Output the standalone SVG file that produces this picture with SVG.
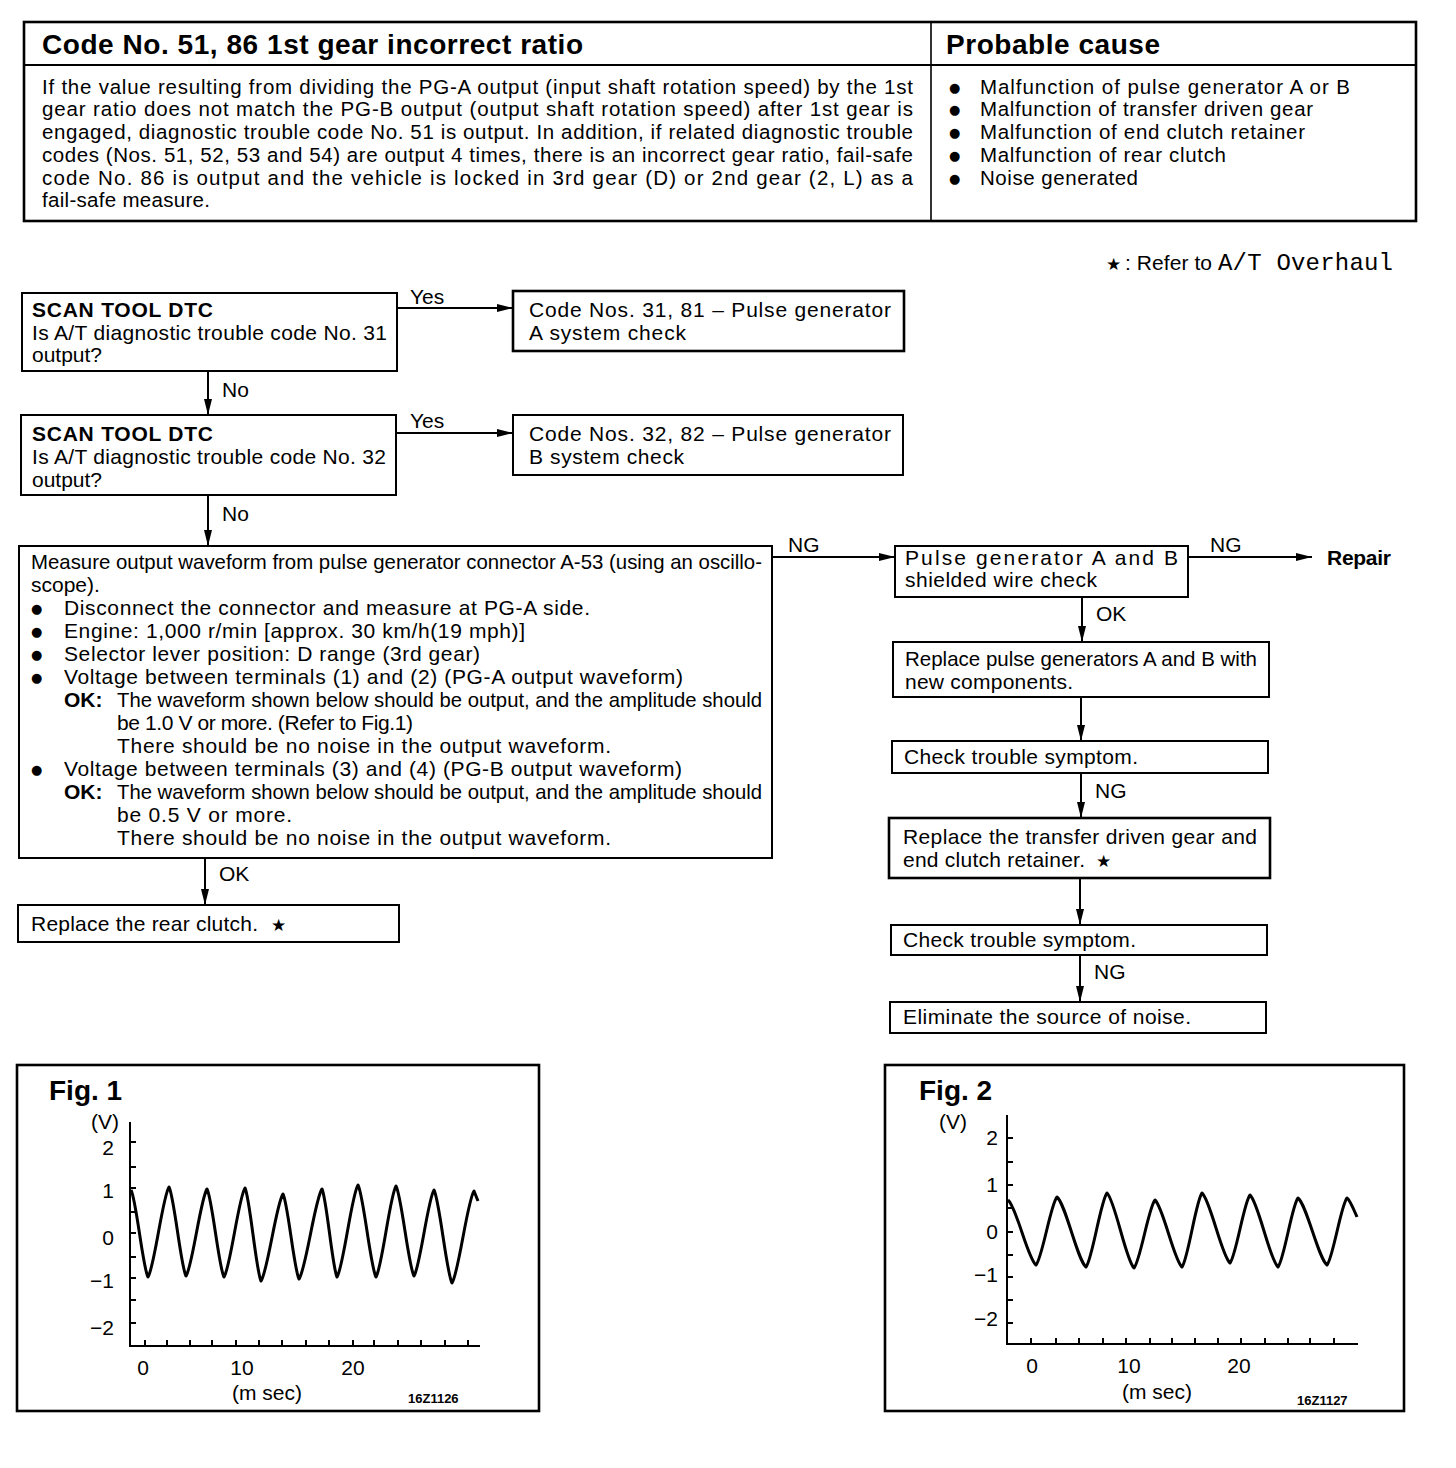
<svg xmlns="http://www.w3.org/2000/svg" width="1456" height="1468" viewBox="0 0 1456 1468">
<defs>
<style>
.t{font-family:"Liberation Sans",Arial,sans-serif;font-size:21px;fill:#000}
.b{font-weight:bold}
.h{font-family:"Liberation Sans",Arial,sans-serif;font-size:28px;font-weight:bold;fill:#000}
.s{font-family:"Liberation Sans",Arial,sans-serif;font-size:20.5px;fill:#000}
.bul{font-family:"DejaVu Sans",sans-serif;font-size:13px;fill:#000}
.star{font-family:"DejaVu Sans",sans-serif;font-size:17px;fill:#000}
.box{fill:#fff;stroke:#000;stroke-width:2}
.thick{stroke-width:2.6}
.ln{fill:none;stroke:#000;stroke-width:2}
.ax{fill:none;stroke:#000;stroke-width:2}
.wave{fill:none;stroke:#000;stroke-width:3;stroke-linejoin:round}
.fl{font-family:"Liberation Sans",Arial,sans-serif;font-size:21px;fill:#000}
.code{font-family:"Liberation Sans",Arial,sans-serif;font-size:13px;font-weight:bold;fill:#000}
</style>
<marker id="ah" markerUnits="userSpaceOnUse" markerWidth="16" markerHeight="8" refX="16" refY="4" orient="auto">
<path d="M0,0 L16,4 L0,8 z" fill="#000"/>
</marker>
</defs>
<rect width="1456" height="1468" fill="#fff"/>

<g id="header">
<rect x="24" y="22" width="1392" height="199" fill="#fff" stroke="#000" stroke-width="2.6"/>
<line x1="24" y1="65" x2="1416" y2="65" stroke="#000" stroke-width="2"/>
<line x1="931" y1="22" x2="931" y2="221" stroke="#000" stroke-width="1.6"/>
<text class="h" x="42" y="54" textLength="541">Code No. 51, 86 1st gear incorrect ratio</text>
<text class="h" x="946" y="54" textLength="214">Probable cause</text>
<text class="s" x="42" y="94" textLength="871">If the value resulting from dividing the PG-A output (input shaft rotation speed) by the 1st</text>
<text class="s" x="42" y="116" textLength="871">gear ratio does not match the PG-B output (output shaft rotation speed) after 1st gear is</text>
<text class="s" x="42" y="139" textLength="871">engaged, diagnostic trouble code No. 51 is output.  In addition, if related diagnostic trouble</text>
<text class="s" x="42" y="162" textLength="871">codes (Nos. 51, 52, 53 and 54) are output 4 times, there is an incorrect gear ratio, fail-safe</text>
<text class="s" x="42" y="185" textLength="871">code No. 86 is output and the vehicle is locked in 3rd gear (D) or 2nd gear (2, L) as a</text>
<text class="s" x="42" y="207" textLength="168">fail-safe measure.</text>
<text class="bul" x="949" y="92">●</text>
<text class="bul" x="949" y="114">●</text>
<text class="bul" x="949" y="137">●</text>
<text class="bul" x="949" y="160">●</text>
<text class="bul" x="949" y="183">●</text>
<text class="s" x="980" y="94" textLength="370">Malfunction of pulse generator A or B</text>
<text class="s" x="980" y="116" textLength="333">Malfunction of transfer driven gear</text>
<text class="s" x="980" y="139" textLength="325">Malfunction of end clutch retainer</text>
<text class="s" x="980" y="162" textLength="246">Malfunction of rear clutch</text>
<text class="s" x="980" y="185" textLength="158">Noise generated</text>
</g>

<g id="note">
<text class="star" x="1106" y="270" font-size="21">★</text>
<text class="t" x="1125" y="270" font-size="23" textLength="87">: Refer to</text>
<text x="1218" y="270" font-family="Liberation Mono,monospace" font-size="24" textLength="175">A/T Overhaul</text>
</g>

<g id="connectors">
<path class="ln" d="M397,308 H513" marker-end="url(#ah)"/>
<path class="ln" d="M208,371 V415" marker-end="url(#ah)"/>
<path class="ln" d="M396,433 H513" marker-end="url(#ah)"/>
<path class="ln" d="M208,495 V546" marker-end="url(#ah)"/>
<path class="ln" d="M772,557 H895" marker-end="url(#ah)"/>
<path class="ln" d="M1188,557 H1312" marker-end="url(#ah)"/>
<path class="ln" d="M1082,597 V642" marker-end="url(#ah)"/>
<path class="ln" d="M1081,697 V741" marker-end="url(#ah)"/>
<path class="ln" d="M1081,773 V818" marker-end="url(#ah)"/>
<path class="ln" d="M1080,878 V925" marker-end="url(#ah)"/>
<path class="ln" d="M1080,955 V1002" marker-end="url(#ah)"/>
<path class="ln" d="M205,858 V905" marker-end="url(#ah)"/>
<text class="t" x="410" y="304">Yes</text>
<text class="t" x="410" y="428">Yes</text>
<text class="t" x="222" y="397">No</text>
<text class="t" x="222" y="521">No</text>
<text class="t" x="788" y="552">NG</text>
<text class="t" x="1210" y="552">NG</text>
<text class="t" x="1096" y="621">OK</text>
<text class="t" x="1095" y="798">NG</text>
<text class="t" x="1094" y="979">NG</text>
<text class="t" x="219" y="881">OK</text>
</g>

<g id="q31">
<rect class="box" x="22" y="293" width="375" height="78"/>
<text class="t b" x="32" y="317" textLength="181">SCAN TOOL DTC</text>
<text class="t" x="32" y="340" textLength="355">Is A/T diagnostic trouble code No. 31</text>
<text class="t" x="32" y="362" textLength="70">output?</text>
</g>

<g id="pga">
<rect class="box thick" x="513" y="291" width="391" height="60"/>
<text class="t" x="529" y="317" textLength="362">Code Nos. 31, 81 – Pulse generator</text>
<text class="t" x="529" y="340" textLength="157">A system check</text>
</g>

<g id="q32">
<rect class="box" x="21" y="415" width="375" height="80"/>
<text class="t b" x="32" y="441" textLength="181">SCAN TOOL DTC</text>
<text class="t" x="32" y="464" textLength="354">Is A/T diagnostic trouble code No. 32</text>
<text class="t" x="32" y="487" textLength="70">output?</text>
</g>

<g id="pgb">
<rect class="box" x="513" y="415" width="390" height="60"/>
<text class="t" x="529" y="441" textLength="362">Code Nos. 32, 82 – Pulse generator</text>
<text class="t" x="529" y="464" textLength="155">B system check</text>
</g>

<g id="measure">
<rect class="box" x="19" y="546" width="753" height="312"/>
<text class="t" x="31" y="569" textLength="731" lengthAdjust="spacingAndGlyphs">Measure output waveform from pulse generator connector A-53 (using an oscillo-</text>
<text class="t" x="31" y="592">scope).</text>
<text class="bul" x="31" y="613">●</text>
<text class="t" x="64" y="615" textLength="526">Disconnect the connector and measure at PG-A side.</text>
<text class="bul" x="31" y="636">●</text>
<text class="t" x="64" y="638" textLength="461">Engine: 1,000 r/min [approx. 30 km/h(19 mph)]</text>
<text class="bul" x="31" y="659">●</text>
<text class="t" x="64" y="661" textLength="416">Selector lever position: D range (3rd gear)</text>
<text class="bul" x="31" y="682">●</text>
<text class="t" x="64" y="684" textLength="619">Voltage between terminals (1) and (2) (PG-A output waveform)</text>
<text class="t b" x="64" y="707">OK:</text>
<text class="t" x="117" y="707" textLength="645" lengthAdjust="spacingAndGlyphs">The waveform shown below should be output, and the amplitude should</text>
<text class="t" x="117" y="730" textLength="296">be 1.0 V or more. (Refer to Fig.1)</text>
<text class="t" x="117" y="753" textLength="494">There should be no noise in the output waveform.</text>
<text class="bul" x="31" y="774">●</text>
<text class="t" x="64" y="776" textLength="618">Voltage between terminals (3) and (4) (PG-B output waveform)</text>
<text class="t b" x="64" y="799">OK:</text>
<text class="t" x="117" y="799" textLength="645" lengthAdjust="spacingAndGlyphs">The waveform shown below should be output, and the amplitude should</text>
<text class="t" x="117" y="822" textLength="175">be 0.5 V or more.</text>
<text class="t" x="117" y="845" textLength="494">There should be no noise in the output waveform.</text>
</g>

<g id="rearclutch">
<rect class="box" x="18" y="905" width="381" height="37"/>
<text class="t" x="31" y="931" textLength="227">Replace the rear clutch.</text>
<text class="star" x="271" y="931">★</text>
</g>

<g id="shield">
<rect class="box" x="895" y="546" width="293" height="51"/>
<text class="t" x="905" y="565" textLength="273">Pulse generator A and B</text>
<text class="t" x="905" y="587" textLength="192">shielded wire check</text>
</g>

<g id="repair">
<text class="t b" x="1327" y="565" textLength="64">Repair</text>
</g>

<g id="replacepg">
<rect class="box" x="893" y="642" width="376" height="55"/>
<text class="t" x="905" y="666" textLength="352" lengthAdjust="spacingAndGlyphs">Replace pulse generators A and B with</text>
<text class="t" x="905" y="689" textLength="168">new components.</text>
</g>

<g id="check1">
<rect class="box" x="892" y="741" width="376" height="32"/>
<text class="t" x="904" y="764" textLength="234">Check trouble symptom.</text>
</g>

<g id="replacegear">
<rect class="box thick" x="889" y="818" width="381" height="60"/>
<text class="t" x="903" y="844" textLength="354">Replace the transfer driven gear and</text>
<text class="t" x="903" y="867" textLength="182">end clutch retainer.</text>
<text class="star" x="1096" y="867">★</text>
</g>

<g id="check2">
<rect class="box" x="891" y="925" width="376" height="30"/>
<text class="t" x="903" y="947" textLength="233">Check trouble symptom.</text>
</g>

<g id="noise">
<rect class="box" x="890" y="1002" width="376" height="31"/>
<text class="t" x="903" y="1024" textLength="288">Eliminate the source of noise.</text>
</g>

<g id="fig1">
<rect x="17" y="1065" width="522" height="346" fill="#fff" stroke="#000" stroke-width="2.6"/>
<text class="h" x="49" y="1100" font-size="25">Fig. 1</text>
<text class="fl" x="91" y="1129">(V)</text>
<path class="ax" d="M130,1122 V1346 H480"/>
<path class="ax" d="M130,1142 h6 M130,1167 h6 M130,1188 h6 M130,1212 h6 M130,1233 h6 M130,1257 h6 M130,1278 h6 M130,1300 h6 M130,1323 h6"/>
<path class="ax" d="M145,1346 v-6 M167,1346 v-6 M190,1346 v-6 M212,1346 v-6 M236,1346 v-6 M259,1346 v-6 M282,1346 v-6 M306,1346 v-6 M329,1346 v-6 M353,1346 v-6 M374,1346 v-6 M398,1346 v-6 M421,1346 v-6 M445,1346 v-6 M468,1346 v-6"/>
<g text-anchor="end">
<text class="fl" x="114" y="1155">2</text>
<text class="fl" x="114" y="1198">1</text>
<text class="fl" x="114" y="1245">0</text>
<text class="fl" x="114" y="1288">−1</text>
<text class="fl" x="114" y="1335">−2</text>
</g>
<g text-anchor="middle">
<text class="fl" x="143" y="1375">0</text>
<text class="fl" x="242" y="1375">10</text>
<text class="fl" x="353" y="1375">20</text>
<text class="fl" x="267" y="1400" font-size="20">(m sec)</text>
</g>
<text class="code" x="408" y="1403">16Z1126</text>
<path class="wave" d="M131,1190 C136.1,1198.7 142.9,1268.3 148,1277 C154.3,1268 162.7,1196 169,1187 C174.1,1195.9 180.9,1267.1 186,1276 C192.3,1267.3 200.7,1197.7 207,1189 C212.1,1197.8 218.9,1268.2 224,1277 C230.3,1268.1 238.7,1196.9 245,1188 C249.8,1197.3 256.2,1271.7 261,1281 C267.6,1272.3 276.4,1202.7 283,1194 C287.8,1202.5 294.2,1270.5 299,1279 C305.9,1270 315.1,1198 322,1189 C326.5,1197.8 332.5,1268.2 337,1277 C343.3,1267.8 351.7,1194.2 358,1185 C363.4,1194.2 370.6,1267.8 376,1277 C382,1267.9 390,1195.1 396,1186 C401.4,1195 408.6,1267 414,1276 C420,1267.4 428,1198.6 434,1190 C439.4,1199.3 446.6,1273.7 452,1283 C458.6,1273.8 467.4,1200.2 474,1191 L478,1201"/>
</g>

<g id="fig2">
<rect x="885" y="1065" width="519" height="346" fill="#fff" stroke="#000" stroke-width="2.6"/>
<text class="h" x="919" y="1100" font-size="25">Fig. 2</text>
<text class="fl" x="939" y="1129">(V)</text>
<path class="ax" d="M1007,1115 V1344 H1358"/>
<path class="ax" d="M1007,1138 h6 M1007,1162 h6 M1007,1185 h6 M1007,1208 h6 M1007,1232 h6 M1007,1255 h6 M1007,1277 h6 M1007,1300 h6 M1007,1323 h6"/>
<path class="ax" d="M1031,1344 v-6 M1056,1344 v-6 M1079,1344 v-6 M1103,1344 v-6 M1126,1344 v-6 M1150,1344 v-6 M1172,1344 v-6 M1195,1344 v-6 M1218,1344 v-6 M1241,1344 v-6 M1265,1344 v-6 M1288,1344 v-6 M1310,1344 v-6 M1334,1344 v-6"/>
<g text-anchor="end">
<text class="fl" x="998" y="1145">2</text>
<text class="fl" x="998" y="1192">1</text>
<text class="fl" x="998" y="1239">0</text>
<text class="fl" x="998" y="1282">−1</text>
<text class="fl" x="998" y="1326">−2</text>
</g>
<g text-anchor="middle">
<text class="fl" x="1032" y="1373">0</text>
<text class="fl" x="1129" y="1373">10</text>
<text class="fl" x="1239" y="1373">20</text>
<text class="fl" x="1157" y="1399" font-size="20">(m sec)</text>
</g>
<text class="code" x="1297" y="1405">16Z1127</text>
<path class="wave" d="M1008,1200 C1016.4,1206.5 1027.6,1258.5 1036,1265 C1042.3,1258.2 1050.7,1203.8 1057,1197 C1065.7,1204 1077.3,1260 1086,1267 C1092.3,1259.6 1100.7,1200.4 1107,1193 C1115.1,1200.5 1125.9,1260.5 1134,1268 C1140.3,1261.2 1148.7,1206.8 1155,1200 C1163.1,1206.7 1173.9,1260.3 1182,1267 C1188,1259.6 1196,1200.4 1202,1193 C1210.4,1200 1221.6,1256 1230,1263 C1236,1256.2 1244,1201.8 1250,1195 C1258.4,1202.2 1269.6,1259.8 1278,1267 C1284,1260.1 1292,1204.9 1298,1198 C1306.7,1204.7 1318.3,1258.3 1327,1265 C1333,1258.3 1341,1204.7 1347,1198 C1350,1200 1354,1210 1357,1217"/>
</g>
</svg>
